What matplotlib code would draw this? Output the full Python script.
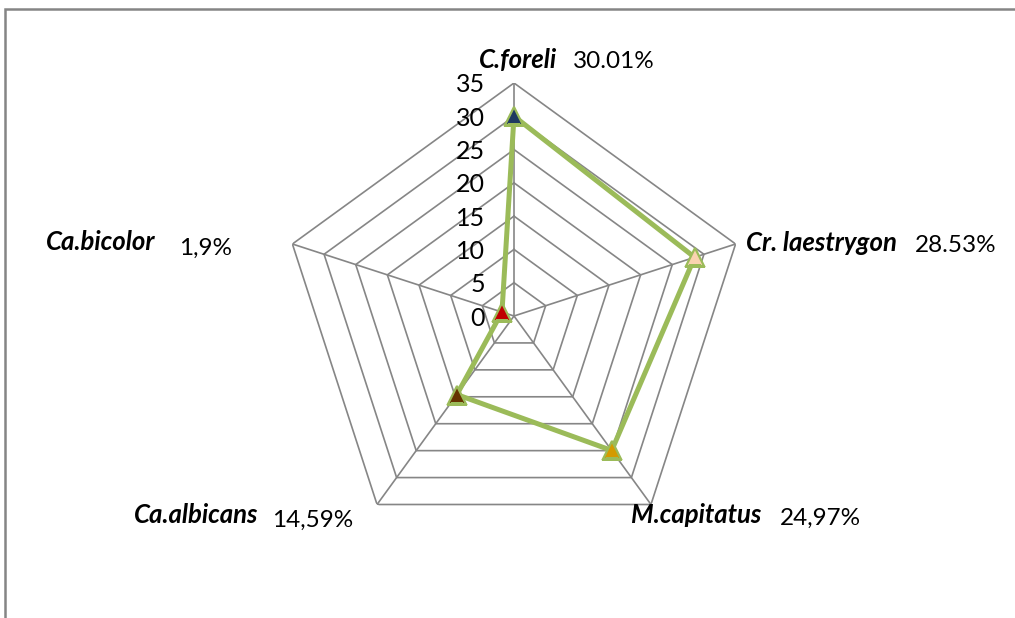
import numpy as np
import matplotlib
matplotlib.use('Agg')
import matplotlib.pyplot as plt
from matplotlib.patches import Rectangle

# Species share of the sample, one spoke per species (clockwise from top)
species = ['C.foreli', 'Cr. laestrygon', 'M.capitatus', 'Ca.albicans', 'Ca.bicolor']
shares = [30.01, 28.53, 24.97, 14.59, 1.9]
share_labels = ['30.01%', '28.53%', '24,97%', '14,59%', '1,9%']
point_colors = ['#1F3A60', '#FAD3B0', '#D49A00', '#663300', '#C00000']
ring_values = [0, 5, 10, 15, 20, 25, 30, 35]

W, H, DPI = 1015, 618, 100
LINE_GREEN = '#9BBB59'
GRID_GRAY = '#868686'
FONT = 'Lato'

# species names: right edge x, vertical centre y (pixels from top-left)
name_pos = [(557, 60), (897, 243), (761, 515), (258, 515), (155, 242)]
# percentages: left edge x, vertical centre y
share_pos = [(573, 62), (915, 246), (780, 518), (272, 520), (179, 248)]

fig = plt.figure(figsize=(W / DPI, H / DPI), dpi=DPI)

# outer frame, only the top and left edges fall inside the image
fig.patches.append(Rectangle((5 / W, -0.1), 1.2, 1.1 - 9 / H, transform=fig.transFigure,
                             fill=False, edgecolor='#858585', linewidth=1.8))

cx, cy, R = 514, 316, 233
ax = fig.add_axes([(cx - R) / W, (H - cy - R) / H, 2 * R / W, 2 * R / H], projection='polar')
ax.set_theta_offset(np.pi / 2)
ax.set_theta_direction(-1)
ax.set_ylim(0, 35)
ax.grid(False)
ax.spines['polar'].set_visible(False)
ax.set_xticks([])
ax.set_yticks([])
ax.patch.set_alpha(0)

n = len(species)
theta = np.arange(n) * 2 * np.pi / n
theta_closed = np.append(theta, theta[0])

# pentagon rings and spokes
for r in ring_values[1:]:
    ax.plot(theta_closed, [r] * (n + 1), color=GRID_GRAY, lw=1.2, zorder=1)
for t in theta:
    ax.plot([t, t], [0, 35], color=GRID_GRAY, lw=1.2, zorder=1)

# radial tick labels to the left of the top spoke
for r in ring_values:
    ax.annotate(str(r), xy=(0, r), xytext=(-29, -2), textcoords='offset pixels',
                ha='right', va='center', fontsize=18, family=FONT, color='black')

vals_closed = shares + shares[:1]
ax.plot(theta_closed, vals_closed, color=LINE_GREEN, lw=3.6, zorder=3)
for t, v, c in zip(theta, shares, point_colors):
    ax.plot(t, v, marker='^', ms=13, mfc=c, mec=LINE_GREEN, mew=1.6, zorder=4)

for name, lab, (nx, ny), (sx, sy) in zip(species, share_labels, name_pos, share_pos):
    fig.text(nx / W, 1 - ny / H, name, ha='right', va='center', fontsize=18.5,
             family=FONT, fontweight='bold', fontstyle='italic')
    fig.text(sx / W, 1 - sy / H, lab, ha='left', va='center', fontsize=17.5, family=FONT)

fig.savefig('out.png', dpi=DPI)
